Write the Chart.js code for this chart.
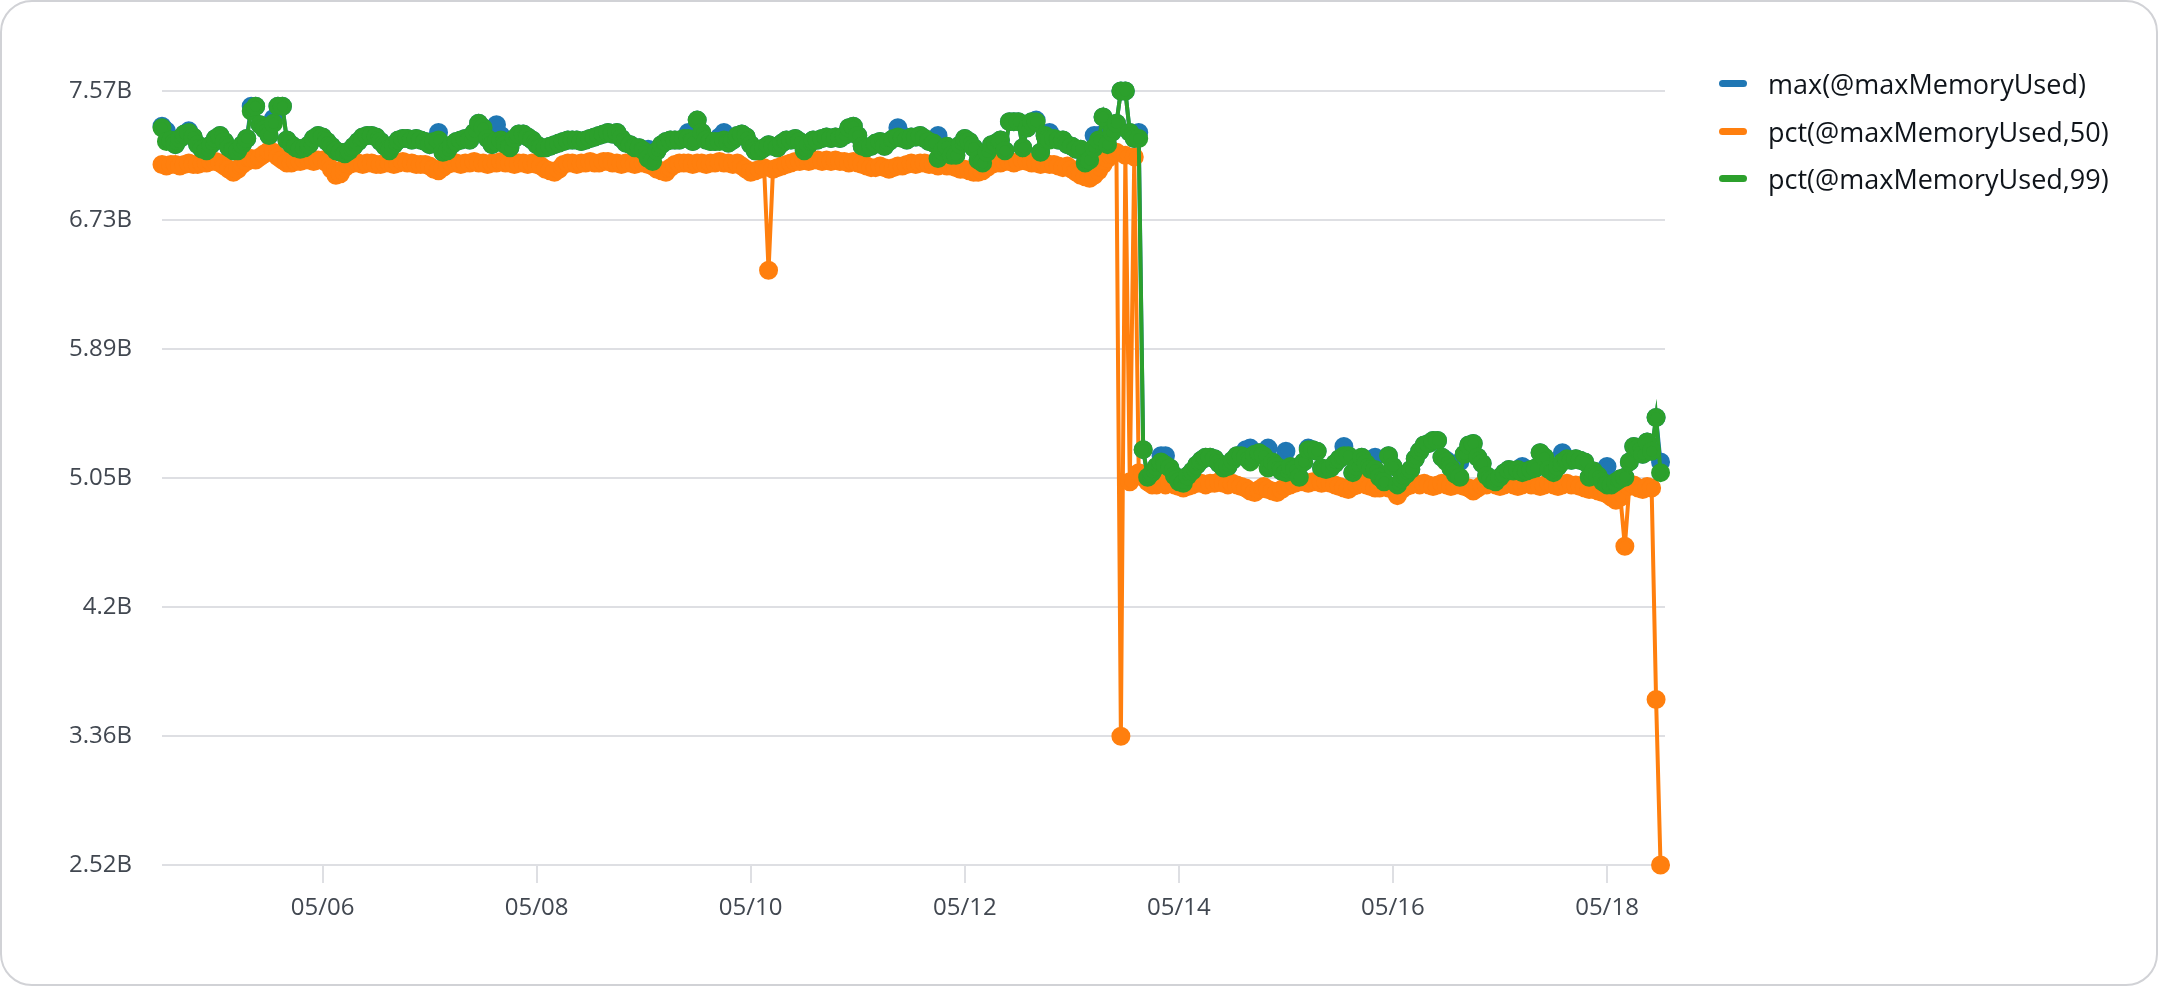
<!DOCTYPE html>
<html><head><meta charset="utf-8">
<script src="https://cdn.jsdelivr.net/npm/chart.js@4/dist/chart.umd.min.js"></script>
<style>
html,body{margin:0;padding:0;background:#fff;width:2158px;height:986px;overflow:hidden;font-family:"Open Sans",sans-serif}
#wrap{position:absolute;left:0;top:0;width:2158px;height:986px}
#frame{position:absolute;left:0;top:0;width:2158px;height:986px;box-sizing:border-box;border:2px solid #d1d2d6;border-radius:32px;pointer-events:none}
.leg{position:absolute;left:1719px;height:40px;display:flex;align-items:center;font-size:27px;color:#0f141a;white-space:nowrap}
.leg i{display:inline-block;width:28px;height:7px;border-radius:4px;margin-right:21px}
</style></head>
<body>
<div id="wrap"><canvas id="c"></canvas></div>
<div id="legend"></div>
<div id="frame"></div>
<script>
const seriesNames = ['max(@maxMemoryUsed)', 'pct(@maxMemoryUsed,50)', 'pct(@maxMemoryUsed,99)'];
const seriesColors = ['#1f77b4', '#ff7f0e', '#2ca02c'];
const firstHour = 12;            // 05/04 12:00, hours since 05/04 00:00, hourly samples
const xTickHours = [48, 96, 144, 192, 240, 288, 336];
const xTickLabels = ['05/06', '05/08', '05/10', '05/12', '05/14', '05/16', '05/18'];
const yTickLabels = ['2.52B', '3.36B', '4.2B', '5.05B', '5.89B', '6.73B', '7.57B'];
const yMin = 2.52, yMax = 7.57;  // billions

const maxValues = [
7.34,7.31,7.25,7.22,7.26,7.29,7.31,7.27,7.22,7.19,
7.18,7.22,7.26,7.28,7.24,7.20,7.18,7.18,7.22,7.26,
7.47,7.47,7.35,7.32,7.28,7.39,7.47,7.47,7.25,7.22,
7.20,7.19,7.20,7.22,7.26,7.28,7.27,7.24,7.21,7.18,
7.17,7.16,7.18,7.21,7.24,7.27,7.28,7.28,7.27,7.24,
7.21,7.18,7.22,7.25,7.26,7.26,7.25,7.26,7.25,7.24,
7.22,7.24,7.30,7.17,7.18,7.22,7.24,7.25,7.26,7.25,
7.30,7.36,7.33,7.26,7.22,7.35,7.28,7.22,7.20,7.26,
7.29,7.29,7.27,7.25,7.22,7.20,7.20,7.21,7.22,7.23,
7.24,7.25,7.25,7.25,7.24,7.25,7.26,7.27,7.28,7.29,
7.30,7.29,7.30,7.26,7.23,7.22,7.20,7.20,7.18,7.19,
7.15,7.18,7.22,7.24,7.25,7.25,7.25,7.26,7.30,7.24,
7.38,7.30,7.25,7.24,7.24,7.27,7.30,7.23,7.25,7.28,
7.29,7.27,7.22,7.18,7.18,7.20,7.22,7.21,7.20,7.23,
7.25,7.25,7.26,7.24,7.18,7.22,7.25,7.25,7.26,7.27,
7.26,7.27,7.26,7.28,7.33,7.34,7.28,7.21,7.20,7.21,
7.23,7.24,7.21,7.24,7.26,7.33,7.28,7.25,7.27,7.27,
7.28,7.26,7.24,7.23,7.28,7.18,7.21,7.15,7.15,7.22,
7.26,7.24,7.20,7.12,7.10,7.17,7.22,7.23,7.25,7.18,
7.37,7.37,7.37,7.20,7.33,7.37,7.38,7.17,7.28,7.30,
7.26,7.25,7.25,7.22,7.21,7.19,7.19,7.10,7.12,7.28,
7.28,7.40,7.22,7.30,7.36,7.57,7.57,7.30,7.26,7.30,
5.23,5.05,5.08,5.12,5.19,5.19,5.11,5.06,5.02,5.01,
5.06,5.09,5.13,5.16,5.18,5.18,5.17,5.14,5.11,5.12,
5.16,5.19,5.19,5.23,5.24,5.20,5.21,5.19,5.24,5.15,
5.12,5.09,5.22,5.12,5.10,5.05,5.15,5.24,5.23,5.22,
5.11,5.10,5.11,5.14,5.17,5.25,5.19,5.08,5.12,5.18,
5.14,5.10,5.18,5.05,5.02,5.19,5.12,5.00,5.04,5.07,
5.10,5.17,5.22,5.26,5.27,5.29,5.29,5.18,5.16,5.11,
5.07,5.15,5.20,5.26,5.27,5.18,5.14,5.06,5.03,5.02,
5.05,5.08,5.10,5.09,5.10,5.12,5.09,5.10,5.11,5.21,
5.18,5.10,5.08,5.12,5.21,5.17,5.16,5.17,5.16,5.15,
5.05,5.09,5.06,5.02,5.12,5.00,5.02,5.04,5.05,5.15,
5.25,5.24,5.20,5.28,5.22,5.44,5.15];

const p50Values = [
7.09,7.08,7.09,7.09,7.08,7.09,7.10,7.09,7.09,7.10,
7.10,7.11,7.11,7.10,7.08,7.06,7.04,7.06,7.09,7.11,
7.13,7.12,7.14,7.16,7.18,7.17,7.14,7.12,7.10,7.10,
7.11,7.11,7.12,7.12,7.11,7.12,7.12,7.10,7.06,7.02,
7.03,7.07,7.09,7.10,7.10,7.09,7.10,7.10,7.09,7.09,
7.10,7.10,7.09,7.10,7.11,7.10,7.10,7.09,7.09,7.09,
7.08,7.06,7.05,7.07,7.09,7.10,7.10,7.09,7.10,7.10,
7.11,7.10,7.10,7.09,7.10,7.10,7.11,7.10,7.10,7.09,
7.10,7.10,7.09,7.10,7.09,7.08,7.06,7.05,7.04,7.06,
7.09,7.10,7.10,7.09,7.10,7.10,7.11,7.10,7.10,7.11,
7.11,7.10,7.10,7.09,7.10,7.10,7.09,7.10,7.10,7.09,
7.08,7.06,7.05,7.04,7.07,7.09,7.10,7.10,7.10,7.09,
7.10,7.10,7.09,7.10,7.10,7.11,7.10,7.10,7.09,7.10,
7.08,7.06,7.04,7.05,7.06,7.07,6.40,7.06,7.07,7.08,
7.09,7.10,7.11,7.11,7.12,7.11,7.12,7.12,7.11,7.12,
7.11,7.12,7.11,7.11,7.10,7.11,7.10,7.09,7.08,7.07,
7.07,7.08,7.07,7.06,7.07,7.08,7.08,7.09,7.10,7.09,
7.10,7.10,7.09,7.09,7.08,7.09,7.08,7.08,7.07,7.06,
7.06,7.05,7.04,7.04,7.05,7.07,7.09,7.10,7.10,7.11,
7.11,7.10,7.11,7.12,7.11,7.10,7.10,7.09,7.10,7.09,
7.09,7.08,7.07,7.08,7.06,7.04,7.02,7.01,7.00,7.02,
7.05,7.09,7.13,7.16,7.17,3.36,7.15,5.02,7.14,5.08,
5.05,5.02,5.00,5.00,5.01,5.00,5.01,5.00,4.99,4.98,
4.99,5.00,5.01,5.01,5.00,5.01,5.01,5.02,5.01,5.00,
5.01,5.00,4.99,4.98,4.96,4.95,4.97,4.99,4.97,4.96,
4.95,4.97,4.99,5.00,5.01,5.02,5.02,5.01,5.02,5.02,
5.01,5.02,5.01,5.00,4.99,4.98,4.97,4.99,5.00,5.01,
5.00,4.99,4.98,4.98,4.99,4.98,4.97,4.93,4.97,4.99,
5.00,5.01,5.00,5.01,5.00,4.99,5.00,5.01,5.00,4.99,
5.00,5.00,4.99,4.98,4.96,4.98,5.00,5.00,5.01,5.00,
4.99,5.00,5.01,5.00,4.99,5.00,5.01,5.00,5.00,4.99,
5.00,5.01,5.00,4.99,5.00,5.01,5.00,5.00,4.99,4.98,
4.97,4.97,4.96,4.95,4.94,4.92,4.90,4.92,4.60,4.99,
5.00,4.98,4.97,4.99,4.98,3.60,2.52];

const p99Values = [
7.33,7.24,7.25,7.22,7.26,7.29,7.30,7.27,7.22,7.19,
7.18,7.22,7.26,7.28,7.24,7.20,7.18,7.18,7.22,7.26,
7.44,7.47,7.35,7.32,7.28,7.36,7.47,7.47,7.25,7.22,
7.20,7.19,7.20,7.22,7.26,7.28,7.27,7.24,7.21,7.18,
7.17,7.16,7.18,7.21,7.24,7.27,7.28,7.28,7.27,7.24,
7.21,7.18,7.22,7.25,7.26,7.26,7.25,7.26,7.25,7.24,
7.22,7.24,7.25,7.17,7.18,7.22,7.24,7.25,7.26,7.25,
7.30,7.36,7.33,7.26,7.22,7.24,7.25,7.22,7.20,7.26,
7.29,7.29,7.27,7.25,7.22,7.20,7.20,7.21,7.22,7.23,
7.24,7.25,7.25,7.25,7.24,7.25,7.26,7.27,7.28,7.29,
7.30,7.29,7.30,7.26,7.23,7.22,7.20,7.20,7.18,7.13,
7.11,7.18,7.22,7.24,7.25,7.25,7.25,7.26,7.26,7.24,
7.38,7.30,7.25,7.24,7.24,7.24,7.25,7.23,7.25,7.28,
7.29,7.27,7.22,7.18,7.18,7.20,7.22,7.21,7.20,7.23,
7.25,7.25,7.26,7.24,7.18,7.22,7.25,7.25,7.26,7.27,
7.26,7.27,7.26,7.28,7.33,7.34,7.28,7.21,7.20,7.21,
7.23,7.24,7.21,7.24,7.26,7.27,7.26,7.25,7.27,7.27,
7.28,7.26,7.24,7.23,7.13,7.18,7.21,7.15,7.15,7.22,
7.26,7.24,7.20,7.12,7.10,7.17,7.22,7.23,7.25,7.18,
7.37,7.37,7.37,7.20,7.33,7.37,7.37,7.17,7.28,7.25,
7.26,7.25,7.25,7.22,7.21,7.19,7.19,7.10,7.12,7.20,
7.25,7.40,7.22,7.30,7.36,7.57,7.57,7.30,7.26,7.26,
5.23,5.05,5.08,5.12,5.15,5.13,5.11,5.06,5.02,5.01,
5.06,5.09,5.13,5.16,5.18,5.18,5.17,5.14,5.11,5.12,
5.16,5.19,5.19,5.18,5.15,5.20,5.21,5.19,5.11,5.15,
5.12,5.09,5.08,5.12,5.10,5.05,5.15,5.23,5.23,5.22,
5.11,5.10,5.11,5.14,5.17,5.19,5.19,5.08,5.12,5.18,
5.14,5.10,5.10,5.05,5.02,5.19,5.12,5.00,5.04,5.07,
5.10,5.17,5.22,5.26,5.27,5.29,5.29,5.18,5.15,5.11,
5.07,5.05,5.20,5.26,5.27,5.18,5.14,5.06,5.03,5.02,
5.05,5.08,5.10,5.09,5.10,5.08,5.09,5.10,5.11,5.21,
5.18,5.10,5.08,5.12,5.15,5.17,5.16,5.17,5.16,5.15,
5.05,5.09,5.06,5.02,5.00,5.00,5.02,5.04,5.05,5.15,
5.25,5.24,5.20,5.28,5.22,5.44,5.08];

const seriesValues = [maxValues, p50Values, p99Values];
const drawOrder = [3, 2, 1]; // p99 drawn on top, max at the bottom

// HTML legend
const legendRowsY = [63, 111, 158];
const legendEl = document.getElementById('legend');
seriesNames.forEach((name, k) => {
  const row = document.createElement('div');
  row.className = 'leg';
  row.style.top = legendRowsY[k] + 'px';
  const sw = document.createElement('i');
  sw.style.background = seriesColors[k];
  row.appendChild(sw);
  row.appendChild(document.createTextNode(name));
  legendEl.appendChild(row);
});

const axisFont = { family: '"Open Sans", sans-serif', size: 24 };
const gridColor = '#dedfe3';

new Chart(document.getElementById('c'), {
  type: 'line',
  data: {
    datasets: seriesValues.map((vals, k) => ({
      label: seriesNames[k],
      data: vals.map((v, i) => ({ x: firstHour + i, y: v })),
      borderColor: seriesColors[k],
      backgroundColor: seriesColors[k],
      borderWidth: 4,
      tension: 0,
      clip: 12,
      order: drawOrder[k]
    }))
  },
  options: {
    animation: false,
    responsive: true,
    maintainAspectRatio: false,
    devicePixelRatio: 1,
    events: [],
    elements: {
      point: { radius: 7.5, borderWidth: 0, hoverRadius: 7.5 },
      line: { borderWidth: 4 }
    },
    layout: { padding: { top: 91, right: 493, bottom: 0, left: 0 } },
    plugins: { legend: { display: false }, tooltip: { enabled: false } },
    scales: {
      x: {
        type: 'linear',
        min: 12,
        max: 349,
        afterBuildTicks: s => { s.ticks = xTickHours.map(v => ({ value: v })); },
        afterFit: s => { s.height = 121; },
        ticks: {
          autoSkip: false, maxRotation: 0, padding: 11,
          font: axisFont, color: '#414750',
          callback: (v, i) => xTickLabels[i]
        },
        grid: { drawOnChartArea: false, drawTicks: true, tickLength: 18, color: gridColor, lineWidth: 2 },
        border: { display: false }
      },
      y: {
        type: 'linear',
        min: yMin,
        max: yMax,
        afterBuildTicks: s => {
          s.ticks = yTickLabels.map((_, k) => ({ value: yMin + k * (yMax - yMin) / (yTickLabels.length - 1) }));
        },
        afterFit: s => { s.width = 162; },
        ticks: {
          padding: 30, font: axisFont, color: '#414750',
          callback: (v, i) => yTickLabels[i]
        },
        grid: { color: gridColor, lineWidth: 2, drawTicks: false },
        border: { display: false }
      }
    }
  }
});
</script>
</body></html>
